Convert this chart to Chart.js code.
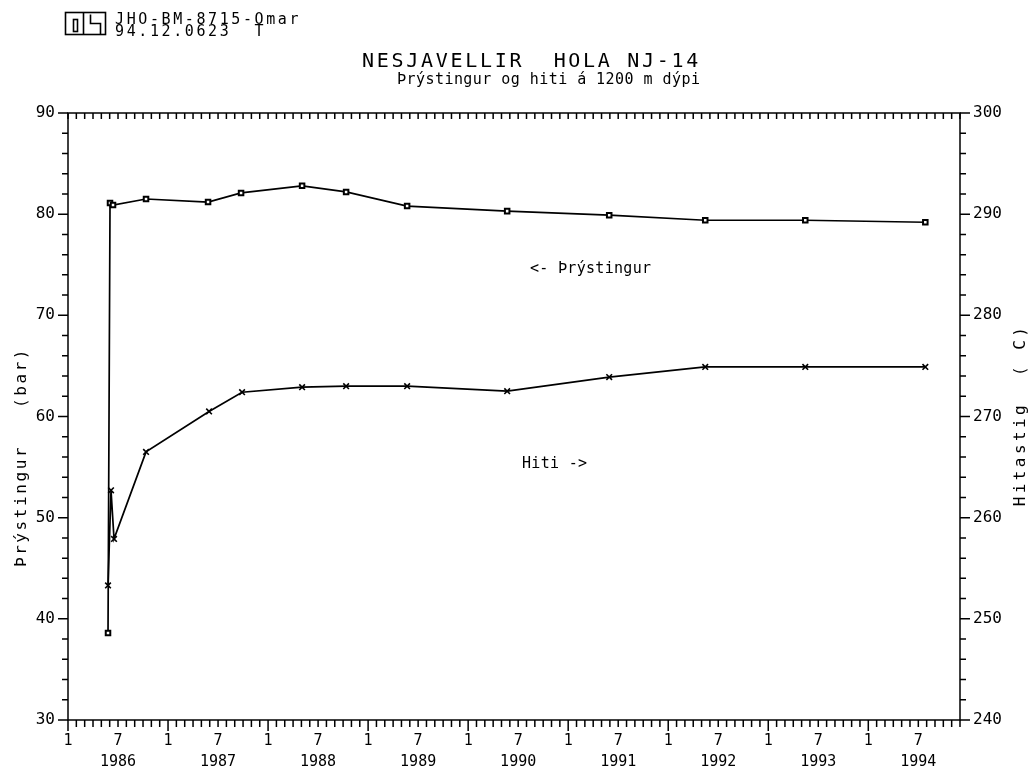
<!DOCTYPE html>
<html>
<head>
<meta charset="utf-8">
<script src="https://cdn.jsdelivr.net/npm/chart.js@4.4.0/dist/chart.umd.min.js"></script>
<style>
  html, body { margin: 0; background: #fff; }
</style>
</head>
<body>
<canvas id="chart1" width="1034" height="768"></canvas>
<script>
var presYears = [1986.40, 1986.42, 1986.45, 1986.78, 1987.40, 1987.73, 1988.34, 1988.78, 1989.39, 1990.39, 1991.41, 1992.37, 1993.37, 1994.57];
var presBar   = [38.6, 81.1, 80.9, 81.5, 81.2, 82.1, 82.8, 82.2, 80.8, 80.3, 79.9, 79.4, 79.4, 79.2];

var hitiYears = [1986.40, 1986.43, 1986.46, 1986.78, 1987.41, 1987.74, 1988.34, 1988.78, 1989.39, 1990.39, 1991.41, 1992.37, 1993.37, 1994.57];
var hitiC     = [253.3, 262.7, 257.9, 266.5, 270.5, 272.4, 272.9, 273.0, 273.0, 272.5, 273.9, 274.9, 274.9, 274.9];

var yearLabels = ["1986", "1987", "1988", "1989", "1990", "1991", "1992", "1993", "1994"];
var nMonths = 107;
var mono = '"DejaVu Sans Mono", monospace';

function pts(xs, ys) {
    return xs.map(function (x, i) { return { x: x, y: ys[i] }; });
}

function txt(ctx, s, x, y, size, spacing) {
    ctx.font = size + 'px ' + mono;
    ctx.letterSpacing = spacing + 'px';
    ctx.fillText(s, x, y);
}

var framePlugin = {
    id: 'frame',
    afterDraw: function (chart) {
        var ctx = chart.ctx;
        var a = chart.chartArea;
        var sx = chart.scales.x, sy = chart.scales.y, sy1 = chart.scales.y1;
        ctx.save();
        ctx.strokeStyle = '#000';
        ctx.fillStyle = '#000';
        ctx.lineWidth = 1.5;
        ctx.strokeRect(a.left, a.top, a.right - a.left, a.bottom - a.top);

        ctx.beginPath();
        for (var v = 30; v <= 90; v += 2) {
            var py = sy.getPixelForValue(v);
            ctx.moveTo(a.left - (v % 10 ? 6 : 10), py);
            ctx.lineTo(a.left, py);
        }
        for (var w = 240; w <= 300; w += 2) {
            var py1 = sy1.getPixelForValue(w);
            ctx.moveTo(a.right, py1);
            ctx.lineTo(a.right + (w % 10 ? 6 : 10), py1);
        }
        for (var i = 0; i <= nMonths; i++) {
            var px = sx.getPixelForValue(1986 + i / 12);
            ctx.moveTo(px, a.bottom);
            ctx.lineTo(px, a.bottom + (i % 12 ? 7 : 11));
            ctx.moveTo(px, a.top);
            ctx.lineTo(px, a.top + 6);
        }
        ctx.stroke();

        // logo
        ctx.lineWidth = 1.6;
        ctx.strokeRect(65.5, 12.5, 40, 22);
        ctx.strokeRect(73.5, 19.5, 4, 12);
        ctx.beginPath();
        ctx.moveTo(83.5, 12.5); ctx.lineTo(83.5, 34.5);
        ctx.moveTo(90.5, 14.5); ctx.lineTo(90.5, 23.5); ctx.lineTo(100.5, 23.5); ctx.lineTo(100.5, 34.5);
        ctx.stroke();

        ctx.textBaseline = 'alphabetic';
        ctx.textAlign = 'left';
        txt(ctx, 'JHO-BM-8715-Omar', 115, 24, 15, 2.6);
        txt(ctx, '94.12.0623  T', 115, 36, 15, 2.6);
        txt(ctx, 'NESJAVELLIR  HOLA NJ-14', 362, 67, 20, 2.7);
        txt(ctx, 'Þrýstingur og hiti á 1200 m dýpi', 397, 84, 15, 0.45);

        txt(ctx, '<- Þrýstingur', 530, 273, 15, 0.3);
        txt(ctx, 'Hiti ->', 522, 468, 15, 0.3);

        ctx.textAlign = 'center';
        ctx.textBaseline = 'middle';
        ctx.save();
        ctx.translate(22, 457);
        ctx.rotate(-Math.PI / 2);
        txt(ctx, 'Þrýstingur   (bar)', 0, 0, 16, 2.6);
        ctx.restore();
        ctx.save();
        ctx.translate(1021, 415);
        ctx.rotate(-Math.PI / 2);
        txt(ctx, 'Hitastig  ( C)', 0, 0, 16, 3.4);
        ctx.restore();
        ctx.restore();
    }
};

var canvas = document.getElementById('chart1').getContext('2d');

new Chart(canvas, {
    type: 'line',
    data: {
        datasets: [{
            label: 'Þrýstingur',
            data: pts(presYears, presBar),
            yAxisID: 'y',
            borderColor: '#000',
            borderWidth: 1.7,
            pointStyle: 'rect',
            pointRadius: 3.2,
            pointBackgroundColor: '#fff',
            pointBorderColor: '#000',
            pointBorderWidth: 2,
            tension: 0
        }, {
            label: 'Hiti',
            data: pts(hitiYears, hitiC),
            yAxisID: 'y1',
            borderColor: '#000',
            borderWidth: 1.7,
            pointStyle: 'crossRot',
            pointRadius: 4,
            pointBorderColor: '#000',
            pointBorderWidth: 1.6,
            tension: 0
        }]
    },
    options: {
        responsive: false,
        devicePixelRatio: 1,
        animation: false,
        layout: { padding: { top: 113, left: 0, right: 0, bottom: 0 } },
        plugins: { legend: { display: false }, tooltip: { enabled: false }, title: { display: false } },
        scales: {
            x: {
                type: 'linear',
                min: 1986,
                max: 1986 + nMonths / 12,
                afterBuildTicks: function (s) {
                    var t = [];
                    for (var i = 0; i <= nMonths; i++) t.push({ value: 1986 + i / 12 });
                    s.ticks = t;
                },
                afterFit: function (s) { s.height = 48; },
                border: { display: false },
                grid: { drawOnChartArea: false, tickLength: 10, tickColor: 'rgba(0,0,0,0)' },
                ticks: {
                    autoSkip: false,
                    maxRotation: 0,
                    padding: 1,
                    color: '#000',
                    font: { family: mono, size: 15, lineHeight: 1.4 },
                    callback: function (v, i) {
                        var m = i % 12;
                        if (m === 0) return '1';
                        if (m === 6) return ['7', yearLabels[Math.floor(i / 12)]];
                        return '';
                    }
                }
            },
            y: {
                position: 'left',
                min: 30,
                max: 90,
                afterFit: function (s) { s.width = 68; },
                border: { display: false },
                grid: { drawOnChartArea: false, tickLength: 10, tickColor: 'rgba(0,0,0,0)' },
                ticks: {
                    stepSize: 2,
                    autoSkip: false,
                    padding: 3,
                    color: '#000',
                    font: { family: mono, size: 16 },
                    callback: function (v) { return v % 10 === 0 ? String(v) : ''; }
                }
            },
            y1: {
                position: 'right',
                min: 240,
                max: 300,
                afterFit: function (s) { s.width = 74; },
                border: { display: false },
                grid: { drawOnChartArea: false, tickLength: 10, tickColor: 'rgba(0,0,0,0)' },
                ticks: {
                    stepSize: 2,
                    autoSkip: false,
                    padding: 3,
                    color: '#000',
                    font: { family: mono, size: 16 },
                    callback: function (v) { return v % 10 === 0 ? String(v) : ''; }
                }
            }
        }
    },
    plugins: [framePlugin]
});
</script>
</body>
</html>
